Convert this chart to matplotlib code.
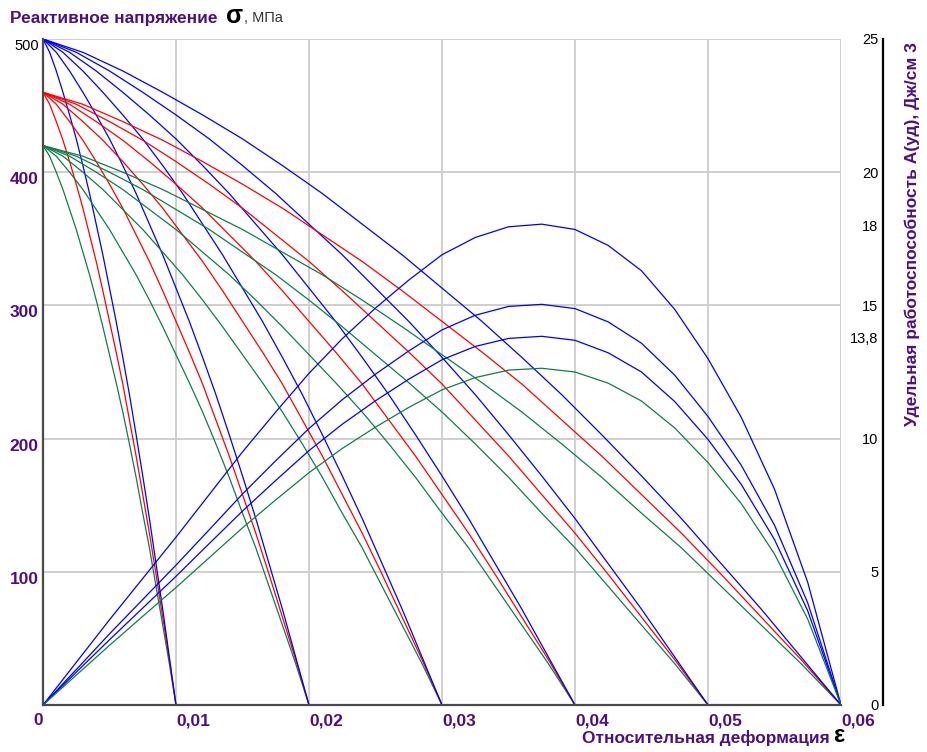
import matplotlib
matplotlib.use("Agg")
import numpy as np
import matplotlib.pyplot as plt

plt.rcParams['font.family'] = ['Liberation Sans', 'DejaVu Sans']

PURPLE = '#4b1082'
GREEN = '#0f7d4a'

# stress curves: same profile for every end strain, read at fractions of the end strain
strain_frac = [0, 0.05, 0.1, 0.15, 0.2, 0.25, 0.3, 0.35, 0.4, 0.45, 0.5,
               0.55, 0.6, 0.65, 0.7, 0.75, 0.8, 0.85, 0.9, 0.95, 1.0]
end_strain = [0.01, 0.02, 0.03, 0.04, 0.05, 0.06]
sigma_blue = [500, 490, 476, 460, 443, 425, 405, 384, 361, 338, 313,
              288, 261, 233, 203, 172, 140, 106, 72, 36, 0]
sigma_red = [460, 451, 438, 424, 408, 391, 373, 353, 333, 311, 288,
             265, 241, 214, 187, 158, 129, 98, 66, 34, 0]
sigma_green = [420, 412, 400, 387, 372, 357, 340, 323, 304, 284, 263,
               242, 220, 196, 171, 144, 118, 89, 60, 31, 0]

# specific work curves, J/cm3
eps_a = [0, 0.0025, 0.005, 0.0075, 0.01, 0.0125, 0.015, 0.0175, 0.02, 0.0225, 0.025,
         0.0275, 0.03, 0.0325, 0.035, 0.0375, 0.04, 0.0425, 0.045, 0.0475, 0.05,
         0.0525, 0.055, 0.0575, 0.06]
a_blue1 = [0, 1.6, 3.2, 4.75, 6.3, 7.9, 9.5, 11.0, 12.45, 13.75, 14.9,
           15.95, 16.9, 17.55, 17.95, 18.05, 17.85, 17.25, 16.3, 14.85, 13.0,
           10.8, 8.1, 4.6, 0]
a_blue2 = [0, 1.33, 2.67, 3.96, 5.25, 6.58, 7.92, 9.17, 10.38, 11.46, 12.42,
           13.29, 14.08, 14.63, 14.96, 15.04, 14.88, 14.38, 13.58, 12.38, 10.83,
           9.0, 6.75, 3.83, 0]
a_blue3 = [0, 1.23, 2.45, 3.64, 4.83, 6.06, 7.28, 8.43, 9.55, 10.54, 11.42,
           12.23, 12.96, 13.46, 13.76, 13.84, 13.69, 13.22, 12.5, 11.39, 9.97,
           8.28, 6.21, 3.53, 0]
a_green = [0, 1.12, 2.24, 3.33, 4.41, 5.53, 6.65, 7.7, 8.72, 9.63, 10.43,
           11.17, 11.83, 12.29, 12.57, 12.64, 12.5, 12.08, 11.41, 10.4, 9.1,
           7.56, 5.67, 3.22, 0]

x_ticks = [0, 0.01, 0.02, 0.03, 0.04, 0.05, 0.06]
x_labels = ['0', '0,01', '0,02', '0,03', '0,04', '0,05', '0,06']
y_ticks = [100, 200, 300, 400, 500]
y2_ticks = [0, 5, 10, 13.8, 15, 18, 20, 25]
y2_labels = ['0', '5', '10', '13,8', '15', '18', '20', '25']

W, H = 927, 752
fig = plt.figure(figsize=(W / 100, H / 100), dpi=100)
ax = fig.add_axes([43 / W, 1 - 705 / H, (841 - 43) / W, (705 - 39) / H])

frac = np.array(strain_frac)
for ek in end_strain:
    ax.plot(frac * ek, sigma_green, color=GREEN, lw=0.9)
    ax.plot(frac * ek, sigma_red, color='red', lw=0.9)
    ax.plot(frac * ek, sigma_blue, color='blue', lw=0.9)

ax.set_xlim(0, 0.06)
ax.set_ylim(0, 500)
ax.grid(True, color='#cfcfcf', lw=1.4)
ax.set_axisbelow(True)
for s in ['top', 'right']:
    ax.spines[s].set_visible(False)
for s in ['left', 'bottom']:
    ax.spines[s].set_color('#4a4a4a')
    ax.spines[s].set_linewidth(1.6)

ax.set_xticks(x_ticks)
ax.set_xticklabels(x_labels, color=PURPLE, fontsize=12.5, fontweight='bold', ha='left')
ax.get_xticklabels()[0].set_ha('right')
ax.tick_params(axis='x', length=0, pad=6)

ax.set_yticks(y_ticks)
ax.set_yticklabels([str(v) for v in y_ticks], color=PURPLE, fontsize=12.5, fontweight='bold', va='top')
lab500 = ax.get_yticklabels()[-1]
lab500.set_color('black')
lab500.set_fontweight('normal')
lab500.set_fontsize(10.5)
ax.tick_params(axis='y', length=0, pad=3)

ax2 = ax.twinx()
ax2.plot(eps_a, a_blue1, color='blue', lw=0.9)
ax2.plot(eps_a, a_blue2, color='blue', lw=0.9)
ax2.plot(eps_a, a_blue3, color='blue', lw=0.9)
ax2.plot(eps_a, a_green, color=GREEN, lw=0.9)
ax2.set_ylim(0, 25)
for s in ['top', 'left', 'bottom']:
    ax2.spines[s].set_visible(False)
ax2.spines['right'].set_position(('outward', 30))
ax2.spines['right'].set_linewidth(1.6)
ax2.set_yticks(y2_ticks)
ax2.set_yticklabels(y2_labels, fontsize=10.5, ha='right')
ax2.tick_params(axis='y', length=0, pad=-3)

# titles
fig.text(10 / W, 1 - 18 / H, 'Реактивное напряжение', color=PURPLE, fontsize=12.4,
         fontweight='bold', va='center', ha='left')
fig.text(226 / W, 1 - 16 / H, 'σ', color='black', fontsize=18, fontweight='bold',
         va='center', ha='left')
fig.text(244 / W, 1 - 18 / H, ', МПа', color='#333333', fontsize=10.5, va='center', ha='left')

fig.text(582 / W, 1 - 738 / H, 'Относительная деформация', color=PURPLE, fontsize=12.4,
         fontweight='bold', va='center', ha='left')
fig.text(844 / W, 1 - 736 / H, 'ε', color='black', fontsize=17, fontweight='bold',
         va='center', ha='right')

fig.text(912 / W, 1 - 234 / H, 'Удельная работоспособность А(уд), Дж/см 3', color=PURPLE,
         fontsize=12.5, fontweight='bold', rotation=90, va='center', ha='center')

fig.savefig('out.png', dpi=100)
